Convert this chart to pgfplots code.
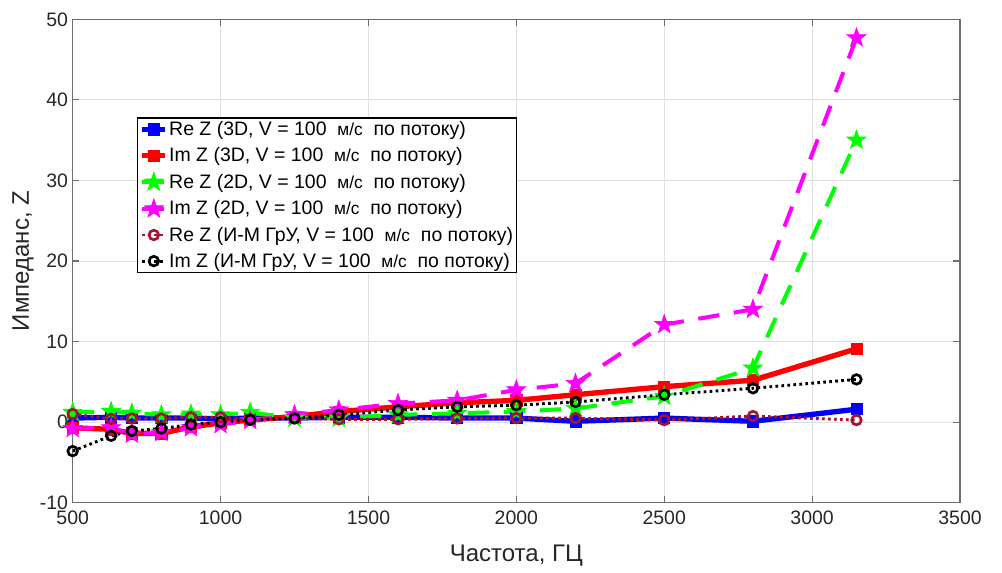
\documentclass[border=0pt]{standalone}
\usepackage{pgfplots}
\pgfplotsset{compat=1.18}
\usepackage{fontspec}
\setmainfont{Liberation Sans}
\definecolor{mbrown}{RGB}{162,20,47}
\definecolor{mblue}{RGB}{0,0,255}
\definecolor{mred}{RGB}{255,0,0}
\definecolor{mgreen}{RGB}{0,255,0}
\definecolor{mmag}{RGB}{255,0,255}
\definecolor{axgray}{RGB}{110,110,110}
\definecolor{txt}{RGB}{38,38,38}
\newcommand{\ms}{{\fontsize{13}{13}\selectfont м/с}}
\pgfdeclareplotmark{fstar}{%
  \pgfpathmoveto{\pgfpointpolar{90}{\pgfplotmarksize}}%
  \pgfpathlineto{\pgfpointpolar{126}{0.40\pgfplotmarksize}}%
  \pgfpathlineto{\pgfpointpolar{162}{\pgfplotmarksize}}%
  \pgfpathlineto{\pgfpointpolar{198}{0.40\pgfplotmarksize}}%
  \pgfpathlineto{\pgfpointpolar{234}{\pgfplotmarksize}}%
  \pgfpathlineto{\pgfpointpolar{270}{0.40\pgfplotmarksize}}%
  \pgfpathlineto{\pgfpointpolar{306}{\pgfplotmarksize}}%
  \pgfpathlineto{\pgfpointpolar{342}{0.40\pgfplotmarksize}}%
  \pgfpathlineto{\pgfpointpolar{18}{\pgfplotmarksize}}%
  \pgfpathlineto{\pgfpointpolar{54}{0.40\pgfplotmarksize}}%
  \pgfpathclose
  \pgfusepathqfillstroke}
\begin{document}
\begin{tikzpicture}
\useasboundingbox (-54.5pt,-52.7pt) rectangle (697pt,377pt);
\begin{axis}[
  at={(0,0)}, anchor=south west,
  scale only axis, width=665.5pt, height=362.5pt,
  xmin=500, xmax=3500, ymin=-10, ymax=50,
  xtick={500,1000,...,3500}, ytick={-10,0,...,50},
  grid=major, grid style={draw=black!12, line width=0.7pt},
  axis line style={draw=axgray, line width=0.9pt},
  tick style={draw=axgray, line width=0.9pt},
  tick align=inside, major tick length=5pt,
  /pgf/number format/assume math mode=true,
  /pgf/number format/set thousands separator={},
  ticklabel style={font=\fontsize{14.6}{17}\selectfont, text=txt},
  xticklabel style={yshift=-3pt},
  xlabel={Частота, ГЦ}, ylabel={Импеданс, Z},
  label style={font=\fontsize{18}{20}\selectfont, text=txt},
  xlabel style={at={(axis description cs:0.5,0)}, anchor=base, yshift=-44.2pt},
  ylabel style={at={(axis description cs:-0.0493,0.5)}, anchor=base},
  legend style={at={(0.0728,0.797)}, anchor=north west, draw=black, line width=0.8pt,
    font=\fontsize{14.6}{17}\selectfont, inner sep=1.5pt, row sep=5.5pt,
    nodes={inner sep=1pt}},
  legend cell align=left,
]
\addplot[mblue, line width=4pt, mark=square*, mark size=4.2pt, mark options={solid, line width=0.5pt}] coordinates {
(500,0.5) (630,0.6) (700,0.5) (800,0.5) (900,0.5) (1000,0.4) (1100,0.5) (1250,0.5) (1400,0.6) (1600,0.6) (1800,0.5) (2000,0.5) (2200,0.1) (2500,0.5) (2800,0.1) (3150,1.6)};
\addlegendentry{Re Z (3D, V = 100 \ \ms\ \ по потоку)}
\addplot[mred, line width=4pt, mark=square*, mark size=4.2pt, mark options={solid, line width=0.5pt}] coordinates {
(500,-0.7) (630,-0.9) (700,-1.4) (800,-1.4) (900,-0.6) (1000,-0.1) (1100,0.25) (1250,0.7) (1400,1.3) (1600,1.9) (1800,2.4) (2000,2.7) (2200,3.4) (2500,4.4) (2800,5.2) (3150,9.1)};
\addlegendentry{Im Z (3D, V = 100 \ \ms\ \ по потоку)}
\addplot[mgreen, line width=3pt, dash pattern=on 16pt off 11pt, mark=fstar, mark size=7.5pt, mark options={solid, fill=mgreen, line width=0.5pt}] coordinates {
(500,1.2) (630,1.3) (700,1.1) (800,0.9) (900,1.0) (1000,0.9) (1100,1.2) (1250,0.5) (1400,0.5) (1600,0.9) (1800,1.1) (2000,1.3) (2200,1.7) (2500,3.2) (2800,6.7) (3150,35.0)};
\addlegendentry{Re Z (2D, V = 100 \ \ms\ \ по потоку)}
\addplot[mmag, line width=3pt, dash pattern=on 16pt off 11pt, mark=fstar, mark size=7.5pt, mark options={solid, fill=mmag, line width=0.5pt}] coordinates {
(500,-0.8) (630,-0.7) (700,-1.5) (800,-1.3) (900,-0.7) (1000,-0.3) (1100,0.2) (1250,0.9) (1400,1.5) (1600,2.3) (1800,2.7) (2000,4.0) (2200,4.8) (2500,12.1) (2800,14.0) (3150,47.7)};
\addlegendentry{Im Z (2D, V = 100 \ \ms\ \ по потоку)}
\addplot[mbrown, line width=2.2pt, dash pattern=on 2pt off 2.5pt, mark=o, mark size=3.6pt, mark options={solid, line width=2pt}] coordinates {
(500,1.0) (630,0.4) (700,0.45) (800,0.45) (900,0.6) (1000,0.6) (1100,0.35) (1250,0.5) (1400,0.35) (1600,0.35) (1800,0.45) (2000,0.5) (2200,0.5) (2500,0.25) (2800,0.75) (3150,0.25)};
\addlegendentry{Re Z (И-М ГрУ, V = 100 \ \ms\ \ по потоку)}
\addplot[black, line width=2.2pt, dash pattern=on 2pt off 2.5pt, mark=o, mark size=3.6pt, mark options={solid, line width=2pt}] coordinates {
(500,-3.6) (630,-1.7) (700,-1.1) (800,-0.8) (900,-0.3) (1000,0) (1100,0.3) (1250,0.45) (1400,0.9) (1600,1.5) (1800,1.9) (2000,2.1) (2200,2.5) (2500,3.4) (2800,4.2) (3150,5.3)};
\addlegendentry{Im Z (И-М ГрУ, V = 100 \ \ms\ \ по потоку)}
\end{axis}
\end{tikzpicture}
\end{document}
